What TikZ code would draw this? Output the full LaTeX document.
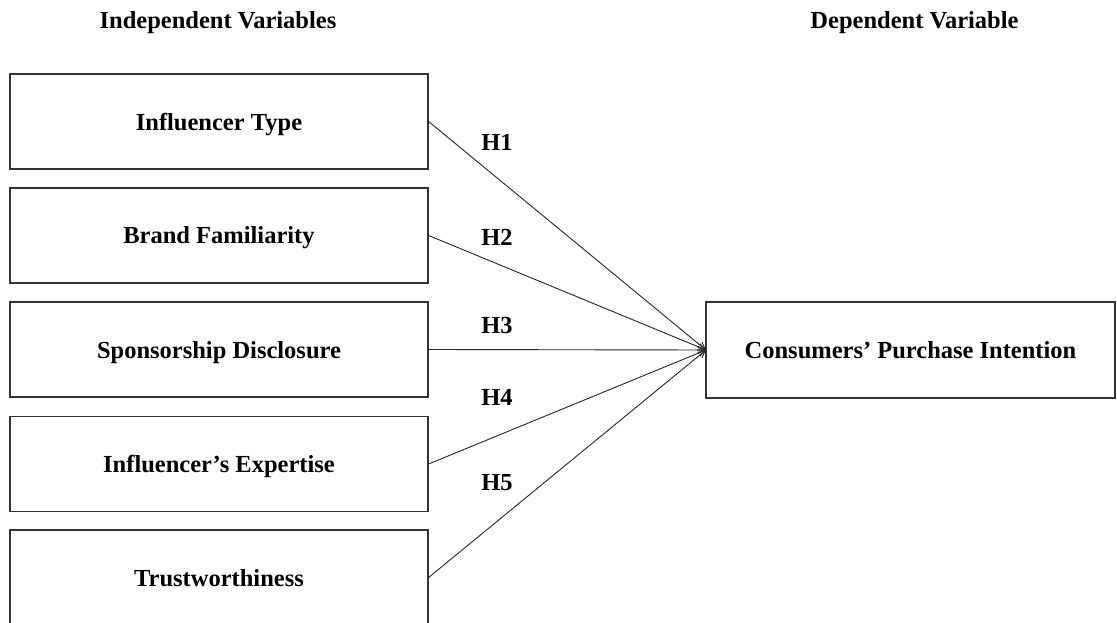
\documentclass[tikz,border=0pt]{standalone}
\usepackage{fontspec}
\setmainfont{Liberation Serif}
\usetikzlibrary{arrows.meta}
\tikzset{
  bigbold/.style={font=\fontsize{24.5}{29}\selectfont\bfseries, text depth=0pt},
  varbox/.style={bigbold, draw=black!80, line width=1.2pt, minimum width=418pt, minimum height=95pt, inner sep=0pt},
  depbox/.style={bigbold, draw=black!80, line width=1.2pt, minimum width=409pt, minimum height=96pt, inner sep=0pt},
  header/.style={bigbold, inner sep=0pt},
  hlabel/.style={bigbold, inner sep=0pt},
  conn/.style={draw=black!85, line width=0.9pt, -{Straight Barb[length=7pt,width=7pt]}}
}
\begin{document}
\begin{tikzpicture}[x=1pt,y=-1pt]
\useasboundingbox (0,0) rectangle (1117,623);
\node[header] (hi) at (218,20.5) {Independent Variables};
\node[header] (hd) at (914.5,20) {Dependent Variable};
\node[varbox] (v1) at (219,121.5) {Influencer Type};
\node[varbox] (v2) at (219,235.5) {Brand Familiarity};
\node[varbox] (v3) at (219,349.5) {Sponsorship Disclosure};
\node[varbox] (v4) at (219,464) {Influencer’s Expertise};
\node[varbox] (v5) at (219,577.5) {Trustworthiness};
\node[depbox] (dv) at (910.5,350) {Consumers’ Purchase Intention};
\coordinate (tip) at (706,350);
\draw[conn] (v1.east) -- (tip);
\draw[conn] (v2.east) -- (tip);
\draw[conn] (v3.east) -- (tip);
\draw[conn] (v4.east) -- (tip);
\draw[conn] (v5.east) -- (tip);
\node[hlabel] (h1) at (497,142.5) {H1};
\node[hlabel] (h2) at (497,237) {H2};
\node[hlabel] (h3) at (497,325) {H3};
\node[hlabel] (h4) at (497,397) {H4};
\node[hlabel] (h5) at (497,482) {H5};
\end{tikzpicture}
\end{document}
